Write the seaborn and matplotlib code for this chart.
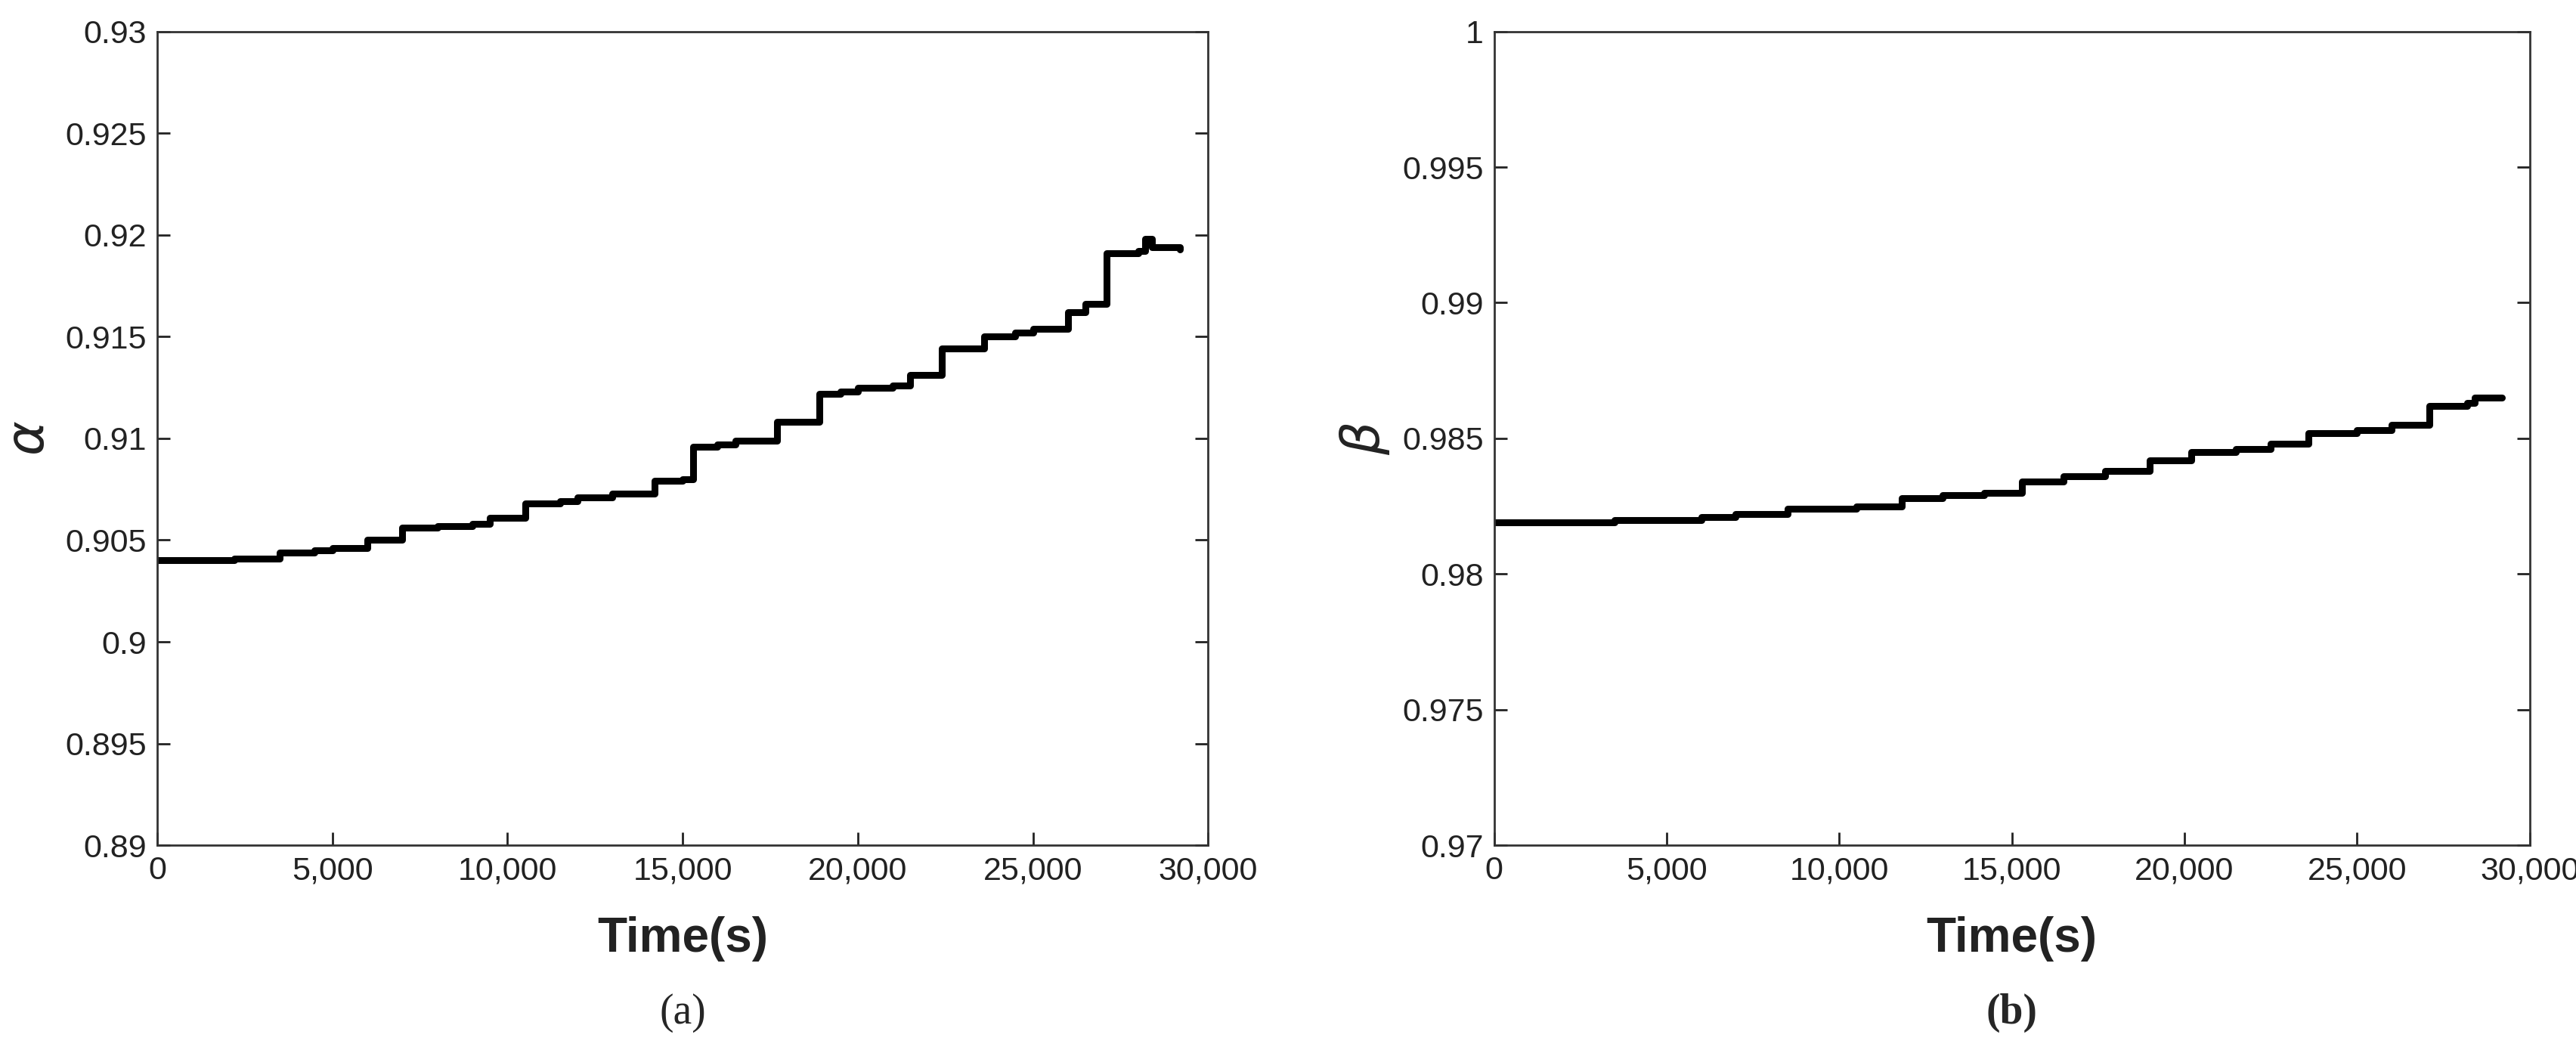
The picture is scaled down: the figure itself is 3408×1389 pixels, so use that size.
import matplotlib
matplotlib.use("Agg")
import matplotlib.pyplot as plt
import seaborn as sns
import pandas as pd

alpha_t = [0, 2200, 3500, 4500, 5000, 6000, 7000, 8000, 9000, 9500, 10500, 11500, 12000, 13000,
           14200, 15000, 15300, 16000, 16500, 17700, 18900, 19500, 20000, 21000, 21500, 22400,
           23600, 24500, 25000, 26000, 26500, 27100, 28000, 28200, 28400, 29200]
alpha_v = [0.9040, 0.9041, 0.9044, 0.9045, 0.9046, 0.9050, 0.9056, 0.9057, 0.9058, 0.9061, 0.9068,
           0.9069, 0.9071, 0.9073, 0.9079, 0.9080, 0.9096, 0.9097, 0.9099, 0.9108, 0.9122, 0.9123,
           0.9125, 0.9126, 0.9131, 0.9144, 0.9150, 0.9152, 0.9154, 0.9162, 0.9166, 0.9191, 0.9192,
           0.9198, 0.9194, 0.9193]
beta_t = [0, 3500, 6000, 7000, 8500, 10500, 11800, 13000, 14200, 15300, 16500, 17700, 19000, 20200,
          21500, 22500, 23600, 25000, 26000, 27100, 28200, 28400, 29200]
beta_v = [0.9819, 0.9820, 0.9821, 0.9822, 0.9824, 0.9825, 0.9828, 0.9829, 0.9830, 0.9834, 0.9836,
          0.9838, 0.9842, 0.9845, 0.9846, 0.9848, 0.9852, 0.9853, 0.9855, 0.9862, 0.9863, 0.9865, 0.9865]

sns.set_style("ticks")
plt.rcParams['font.family'] = ['Liberation Sans Narrow', 'Liberation Sans', 'DejaVu Sans']

fig = plt.figure(figsize=(34.08, 13.89), dpi=100)
specs = [
    ([0.061, 0.195, 0.408, 0.775], alpha_t, alpha_v, (0.89, 0.93), [0.89, 0.895, 0.9, 0.905, 0.91, 0.915, 0.92, 0.925, 0.93],
     ['0.89', '0.895', '0.9', '0.905', '0.91', '0.915', '0.92', '0.925', '0.93'], r'$\alpha$', 'a'),
    ([0.580, 0.195, 0.402, 0.775], beta_t, beta_v, (0.97, 1.0), [0.97, 0.975, 0.98, 0.985, 0.99, 0.995, 1.0],
     ['0.97', '0.975', '0.98', '0.985', '0.99', '0.995', '1'], r'$\beta$', 'b'),
]
for rect, t, v, ylim, yt, ytl, ylab, letter in specs:
    ax = fig.add_axes(rect)
    df = pd.DataFrame({'t': t, 'v': v})
    sns.lineplot(data=df, x='t', y='v', ax=ax, color='black', linewidth=6.5, drawstyle='steps-post')
    ax.set_xlim(0, 30000)
    ax.set_ylim(*ylim)
    ax.set_xticks([0, 5000, 10000, 15000, 20000, 25000, 30000])
    ax.set_xticklabels(['0', '5,000', '10,000', '15,000', '20,000', '25,000', '30,000'])
    ax.set_yticks(yt)
    ax.set_yticklabels(ytl)
    ax.tick_params(direction='in', length=12, width=2, labelsize=31, colors='#222222', pad=10,
                   top=False, right=True)
    for s in ax.spines.values():
        s.set_linewidth(2)
        s.set_color('#333333')
    ax.set_xlabel('')
    ax.set_ylabel(ylab, fontsize=50, color='#222222', labelpad=10)
    cx = rect[0] + rect[2] / 2
    fig.text(cx, 0.106, 'Time(s)', ha='center', va='center', fontsize=46, fontweight='bold', color='#222222')
    fig.text(cx, 0.035, '(' + letter + ')', ha='center', va='center',
             fontsize=40, family='Liberation Serif', fontweight='bold' if letter == 'b' else 'normal')

fig.savefig('out.png', dpi=100)
